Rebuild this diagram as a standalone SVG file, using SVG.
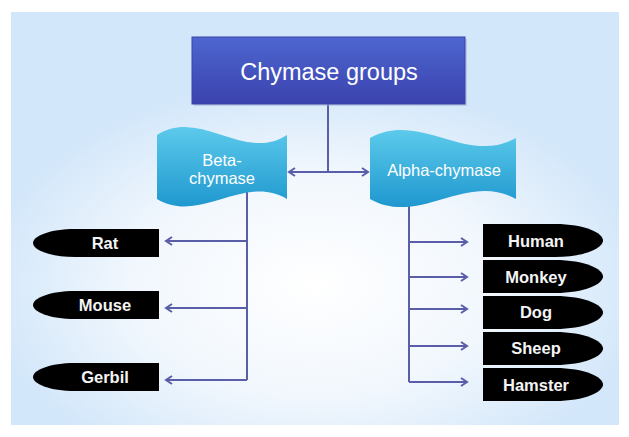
<svg xmlns="http://www.w3.org/2000/svg" width="629" height="437" viewBox="0 0 629 437">
<defs>
<radialGradient id="bg" cx="315" cy="285" r="330" gradientUnits="userSpaceOnUse" gradientTransform="translate(315 285) scale(1 0.62) translate(-315 -285)">
<stop offset="0" stop-color="#ffffff"/>
<stop offset="0.55" stop-color="#f1f7fd"/>
<stop offset="1" stop-color="#d3e7fa"/>
</radialGradient>
<linearGradient id="title" x1="0" y1="0" x2="0" y2="1">
<stop offset="0" stop-color="#4d66d0"/>
<stop offset="1" stop-color="#3b42ad"/>
</linearGradient>
<linearGradient id="flag" x1="0" y1="0" x2="0" y2="1">
<stop offset="0" stop-color="#5ccaeb"/>
<stop offset="1" stop-color="#1f98cf"/>
</linearGradient>
<marker id="arr" markerWidth="10" markerHeight="10" refX="8" refY="5" orient="auto" markerUnits="userSpaceOnUse">
<path d="M2,1 L8,5 L2,9" fill="none" stroke="#5a5ea8" stroke-width="2"/>
</marker>
</defs>
<style>
.ln{fill:none;stroke:#5a5ea8;stroke-width:2}
.pill{fill:#000}
.pt{font-family:"Liberation Sans",Arial,sans-serif;font-weight:bold;font-size:16.5px;fill:#f4f4f4;text-anchor:middle}
.ft{font-family:"Liberation Sans",Arial,sans-serif;font-size:16.5px;fill:#ffffff;text-anchor:middle}
</style>
<rect x="0" y="0" width="629" height="437" fill="#ffffff"/>
<rect x="11" y="12" width="608" height="413" fill="url(#bg)"/>

<g id="connectors">
<path class="ln" d="M328,104 V172"/>
<path class="ln" d="M328,172 H289" marker-end="url(#arr)"/>
<path class="ln" d="M328,172 H368" marker-end="url(#arr)"/>
<path class="ln" d="M247,192 V380"/>
<path class="ln" d="M247,241 H166" marker-end="url(#arr)"/>
<path class="ln" d="M247,308 H166" marker-end="url(#arr)"/>
<path class="ln" d="M247,380 H166" marker-end="url(#arr)"/>
<path class="ln" d="M409,205 V382"/>
<path class="ln" d="M409,242 H467" marker-end="url(#arr)"/>
<path class="ln" d="M409,277 H467" marker-end="url(#arr)"/>
<path class="ln" d="M409,309 H467" marker-end="url(#arr)"/>
<path class="ln" d="M409,346 H467" marker-end="url(#arr)"/>
<path class="ln" d="M409,382 H467" marker-end="url(#arr)"/>
</g>

<g id="title-node">
<rect x="194" y="39" width="273" height="67" fill="#9fb0d0" opacity="0.5"/>
<rect x="192" y="37" width="273" height="67" fill="url(#title)" stroke="#3a45a6" stroke-width="1"/>
<text x="329" y="80" font-family="'Liberation Sans',Arial,sans-serif" font-size="23.5" fill="#ffffff" text-anchor="middle">Chymase groups</text>
</g>

<g id="beta">
<path d="M157,135 C200,107 244,163 287,135 L287,199 C244,173 200,225 157,199 Z" fill="url(#flag)"/>
<text class="ft" x="222" y="166">Beta-</text>
<text class="ft" x="222" y="184">chymase</text>
</g>

<g id="alpha">
<path d="M370,138 C419,110 467,166 516,138 L516,199 C467,171 419,227 370,199 Z" fill="url(#flag)"/>
<text class="ft" x="444" y="176" font-size="17">Alpha-chymase</text>
</g>

<g id="rat">
<path class="pill" d="M159,229 V257 H75 C50,257 33,250 33,243 C33,236 50,229 75,229 Z"/>
<text class="pt" x="105" y="249">Rat</text>
</g>
<g id="mouse">
<path class="pill" d="M159,291 V319 H75 C50,319 33,312 33,305 C33,298 50,291 75,291 Z"/>
<text class="pt" x="105" y="311">Mouse</text>
</g>
<g id="gerbil">
<path class="pill" d="M159,363 V391 H75 C50,391 33,384 33,377 C33,370 50,363 75,363 Z"/>
<text class="pt" x="105" y="383">Gerbil</text>
</g>

<g id="human">
<path class="pill" d="M483,224 H555 C585,224 603,233 603,240.5 C603,248 585,257 555,257 H483 Z"/>
<text class="pt" x="536" y="247">Human</text>
</g>
<g id="monkey">
<path class="pill" d="M483,260 H555 C585,260 603,269 603,276.5 C603,284 585,293 555,293 H483 Z"/>
<text class="pt" x="536" y="283">Monkey</text>
</g>
<g id="dog">
<path class="pill" d="M483,296 H555 C585,296 603,305 603,312.5 C603,320 585,329 555,329 H483 Z"/>
<text class="pt" x="536" y="318">Dog</text>
</g>
<g id="sheep">
<path class="pill" d="M483,332 H555 C585,332 603,341 603,348.5 C603,356 585,365 555,365 H483 Z"/>
<text class="pt" x="536" y="354">Sheep</text>
</g>
<g id="hamster">
<path class="pill" d="M483,368 H555 C585,368 603,377 603,384.5 C603,392 585,401 555,401 H483 Z"/>
<text class="pt" x="536" y="391">Hamster</text>
</g>
</svg>
